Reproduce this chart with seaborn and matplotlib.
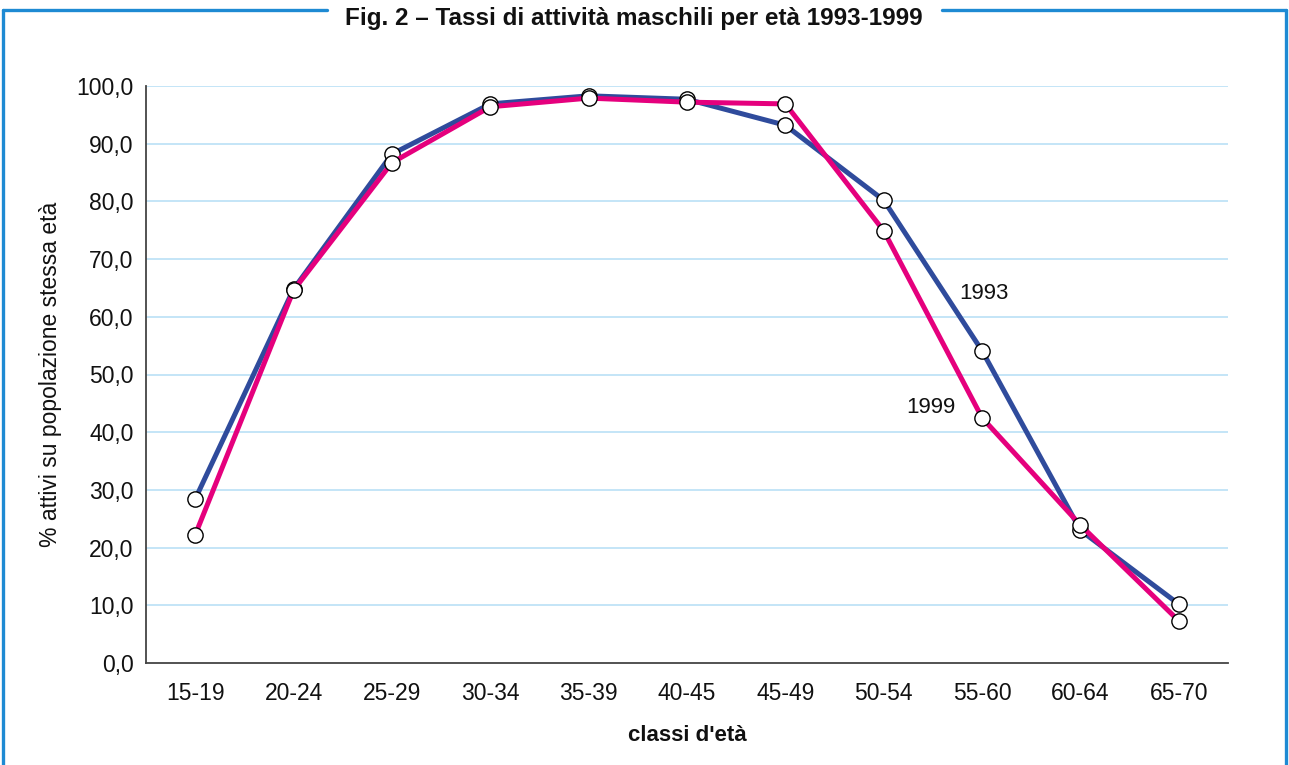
import matplotlib
matplotlib.use("Agg")
import matplotlib.pyplot as plt
from matplotlib.lines import Line2D
import seaborn as sns
import pandas as pd
import numpy as np

categories = ["15-19", "20-24", "25-29", "30-34", "35-39", "40-45",
              "45-49", "50-54", "55-60", "60-64", "65-70"]
values_1993 = [28.4, 64.8, 88.2, 96.9, 98.3, 97.7, 93.2, 80.2, 54.1, 23.0, 10.2]
values_1999 = [22.2, 64.6, 86.7, 96.4, 97.9, 97.2, 96.9, 74.9, 42.5, 23.9, 7.3]
years = ["1993", "1999"]
yticks = [0, 10, 20, 30, 40, 50, 60, 70, 80, 90, 100]

df = pd.DataFrame({
    "classe": categories * 2,
    "valore": values_1993 + values_1999,
    "anno": [years[0]] * len(categories) + [years[1]] * len(categories),
})

sns.set_theme(style="white")
plt.rcParams["font.family"] = ["Liberation Sans", "DejaVu Sans"]

W, H = 1289, 765
fig = plt.figure(figsize=(W / 100, H / 100), dpi=100)
ax = fig.add_axes([146 / W, 1 - 663 / H, (1228 - 146) / W, (663 - 86) / H])

palette = {"1993": "#2f4b9c", "1999": "#e5007d"}
sns.lineplot(data=df, x="classe", y="valore", hue="anno", palette=palette,
             sort=False, linewidth=3.6, marker="o", markersize=11,
             markerfacecolor="white", markeredgecolor="black",
             markeredgewidth=1.0, legend=False, ax=ax)
for ln in ax.lines:
    ln.set_clip_on(False)
    ln.set_solid_joinstyle("miter")

ax.set_xlim(-0.5, len(categories) - 0.5)
ax.set_ylim(0, 100)
ax.set_yticks(yticks)
ax.set_yticklabels([f"{v:.1f}".replace(".", ",") for v in yticks], fontsize=16.5)
ax.set_xticks(range(len(categories)))
ax.set_xticklabels(categories, fontsize=16.5)
ax.set_xticks(np.arange(-0.5, len(categories)), minor=True)
ax.tick_params(axis="x", which="major", length=0, pad=14, colors="#111111")
ax.tick_params(axis="x", which="minor", length=6, width=1.2, color="#444444", direction="out")
ax.tick_params(axis="y", which="major", length=5, width=1.2, color="#444444", direction="out",
               pad=4)
for lab in ax.get_yticklabels():
    lab.set_color("#111111")

for y in yticks[1:]:
    ax.axhline(y, color="#bfe3f7", linewidth=1.3, zorder=0)

for s in ["top", "right"]:
    ax.spines[s].set_visible(False)
for s in ["left", "bottom"]:
    ax.spines[s].set_color("#444444")
    ax.spines[s].set_linewidth(1.3)

ax.set_xlabel("classi d'età", fontsize=16, fontweight="bold", labelpad=14, color="#111111")
ax.set_ylabel("% attivi su popolazione stessa età", fontsize=16.5, labelpad=10, color="#111111")

ax.text(8.02, 64, "1993", fontsize=16, color="#111111", ha="center", va="center")
ax.text(7.48, 44.2, "1999", fontsize=16, color="#111111", ha="center", va="center")

# frame around the figure
fc = "#1e8ad3"
fig.add_artist(Line2D([3 / W, 3 / W], [0, 1 - 10 / H], color=fc, linewidth=2.4))
fig.add_artist(Line2D([1286 / W, 1286 / W], [0, 1 - 10 / H], color=fc, linewidth=2.4))
fig.add_artist(Line2D([3 / W, 327 / W], [1 - 10 / H, 1 - 10 / H], color=fc, linewidth=2.4))
fig.add_artist(Line2D([942 / W, 1286 / W], [1 - 10 / H, 1 - 10 / H], color=fc, linewidth=2.4))

fig.text(634 / W, 1 - 18 / H, "Fig. 2 – Tassi di attività maschili per età 1993-1999",
         fontsize=17.5, fontweight="bold", ha="center", va="center",
         family=["Liberation Sans Narrow", "Liberation Sans", "DejaVu Sans"], color="#111111")

fig.savefig("out.png", dpi=100)
